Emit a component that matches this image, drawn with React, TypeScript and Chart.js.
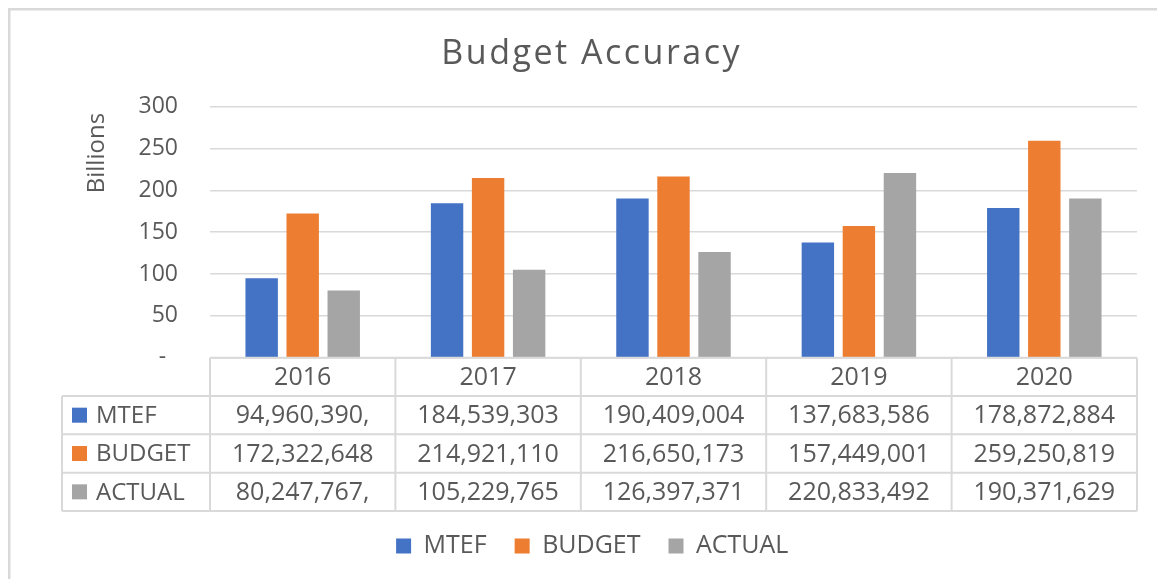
import React, { useEffect, useRef } from "react";
import { Chart, registerables } from "chart.js";

Chart.register(...registerables);

// ---- data ----
const chartTitle = "Budget Accuracy";
const years = ["2016", "2017", "2018", "2019", "2020"];
const seriesNames = ["MTEF", "BUDGET", "ACTUAL"];
// values in billions
const mtefValues = [94.96039, 184.539303, 190.409004, 137.683586, 178.872884];
const budgetValues = [172.322648, 214.92111, 216.650173, 157.449001, 259.250819];
const actualValues = [80.247767, 105.229765, 126.397371, 220.833492, 190.371629];
// data-table cell texts, as displayed
const mtefTexts = ["94,960,390,", "184,539,303", "190,409,004", "137,683,586", "178,872,884"];
const budgetTexts = ["172,322,648", "214,921,110", "216,650,173", "157,449,001", "259,250,819"];
const actualTexts = ["80,247,767,", "105,229,765", "126,397,371", "220,833,492", "190,371,629"];
const yMin = 0;
const yMax = 300;
const yStep = 50;

// ---- styles ----
const FONT = "'Open Sans', sans-serif";
const TEXT = "#595959";
const GRID = "#d9d9d9";
const COLORS = ["#4472C4", "#ED7D31", "#A5A5A5"];
const TABLE_H = 153.3;
const LABEL_COL_LEFT = 54;
const PAD_LEFT = 39.5;

const tableTexts = [mtefTexts, budgetTexts, actualTexts];

const frame = {
  id: "frame",
  beforeDraw(chart: any) {
    const { ctx, width, height } = chart;
    ctx.save();
    ctx.fillStyle = "#ffffff";
    ctx.fillRect(0, 0, width, height);
    ctx.fillStyle = GRID;
    ctx.fillRect(0, 0, 2.5, height);
    ctx.fillRect(0, 0, width, 2.5);
    ctx.restore();
  },
  afterDraw(chart: any) {
    const { ctx } = chart;
    ctx.save();
    ctx.fillStyle = TEXT;
    ctx.font = `34px ${FONT}`;
    ctx.textAlign = "center";
    ctx.textBaseline = "alphabetic";
    try {
      (ctx as any).letterSpacing = "2.5px";
    } catch (e) {}
    ctx.fillText(chartTitle, 583.7, 56.3);
    try {
      (ctx as any).letterSpacing = "0px";
    } catch (e) {}
    ctx.restore();
  },
};

const dataTable = {
  id: "dataTable",
  afterDraw(chart: any) {
    const { ctx, chartArea } = chart;
    const xs = chart.scales.x;
    const left = chartArea.left;
    const right = chartArea.right;
    const top = chartArea.bottom;
    const rowH = TABLE_H / 4;
    const colW = (right - left) / years.length;
    const line = (x1: number, y1: number, x2: number, y2: number) => {
      ctx.beginPath();
      ctx.moveTo(x1, y1);
      ctx.lineTo(x2, y2);
      ctx.stroke();
    };
    ctx.save();
    ctx.strokeStyle = GRID;
    ctx.lineWidth = 2;
    line(left, top, right, top);
    for (let r = 1; r <= 4; r++) line(LABEL_COL_LEFT, top + r * rowH, right, top + r * rowH);
    for (let c = 0; c <= years.length; c++) {
      const x = left + c * colW;
      line(x, top, x, top + 4 * rowH);
    }
    line(LABEL_COL_LEFT, top + rowH, LABEL_COL_LEFT, top + 4 * rowH);

    ctx.fillStyle = TEXT;
    ctx.textBaseline = "middle";
    ctx.textAlign = "center";
    ctx.font = `25px ${FONT}`;
    years.forEach((yr, i) => {
      ctx.fillText(yr, xs.getPixelForValue(i), top + rowH / 2 + 1);
    });
    tableTexts.forEach((row, r) => {
      const cy = top + (r + 1.5) * rowH + 1;
      row.forEach((t, i) => {
        ctx.fillText(t, xs.getPixelForValue(i), cy);
      });
    });
    ctx.textAlign = "left";
    ctx.font = `24px ${FONT}`;
    seriesNames.forEach((name, r) => {
      const cy = top + (r + 1.5) * rowH;
      ctx.fillStyle = COLORS[r];
      ctx.fillRect(LABEL_COL_LEFT + 10, cy - 7.5, 15, 15);
      ctx.fillStyle = TEXT;
      ctx.fillText(name, LABEL_COL_LEFT + 34, cy + 1);
    });
    ctx.restore();
  },
};

export default function App() {
  const ref = useRef<HTMLCanvasElement | null>(null);
  useEffect(() => {
    if (!ref.current) return;
    Chart.defaults.font.family = FONT;
    Chart.defaults.color = TEXT;
    const valueSets = [mtefValues, budgetValues, actualValues];
    const chart = new Chart(ref.current, {
      type: "bar",
      data: {
        labels: years,
        datasets: seriesNames.map((name, i) => ({
          label: name,
          data: valueSets[i],
          backgroundColor: COLORS[i],
          borderWidth: 0,
          categoryPercentage: 0.664,
          barPercentage: 0.79,
        })),
      },
      options: {
        responsive: true,
        maintainAspectRatio: false,
        animation: false,
        layout: { padding: { left: PAD_LEFT, right: 28, top: 98.7, bottom: 10.5 } },
        plugins: {
          title: { display: false },
          legend: {
            display: true,
            position: "bottom",
            labels: {
              color: TEXT,
              font: { size: 25, family: FONT },
              boxWidth: 15,
              boxHeight: 15,
              padding: 28,
            },
          },
          tooltip: { enabled: false },
        },
        scales: {
          x: {
            grid: { display: false },
            border: { display: false },
            ticks: { display: false },
            afterFit: (s: any) => {
              s.height = 147.8;
            },
          },
          y: {
            min: yMin,
            max: yMax,
            ticks: {
              stepSize: yStep,
              padding: 32,
              color: TEXT,
              font: { size: 23, family: FONT },
              callback: (v: any) => (Number(v) === 0 ? "-  " : String(v)),
            },
            grid: { color: GRID, lineWidth: 1.5, drawTicks: false },
            border: { display: false },
            title: {
              display: true,
              text: "Billions ",
              align: "end",
              color: TEXT,
              font: { size: 24, family: FONT },
              padding: { top: 35.1, bottom: 0 },
            },
            afterFit: (s: any) => {
              s.width = 202 - PAD_LEFT;
            },
          },
        },
      },
      plugins: [frame, dataTable],
    });
    return () => chart.destroy();
  }, []);
  return (
    <div style={{ width: "1157px", height: "571px", position: "relative" }}>
      <canvas ref={ref} />
    </div>
  );
}
